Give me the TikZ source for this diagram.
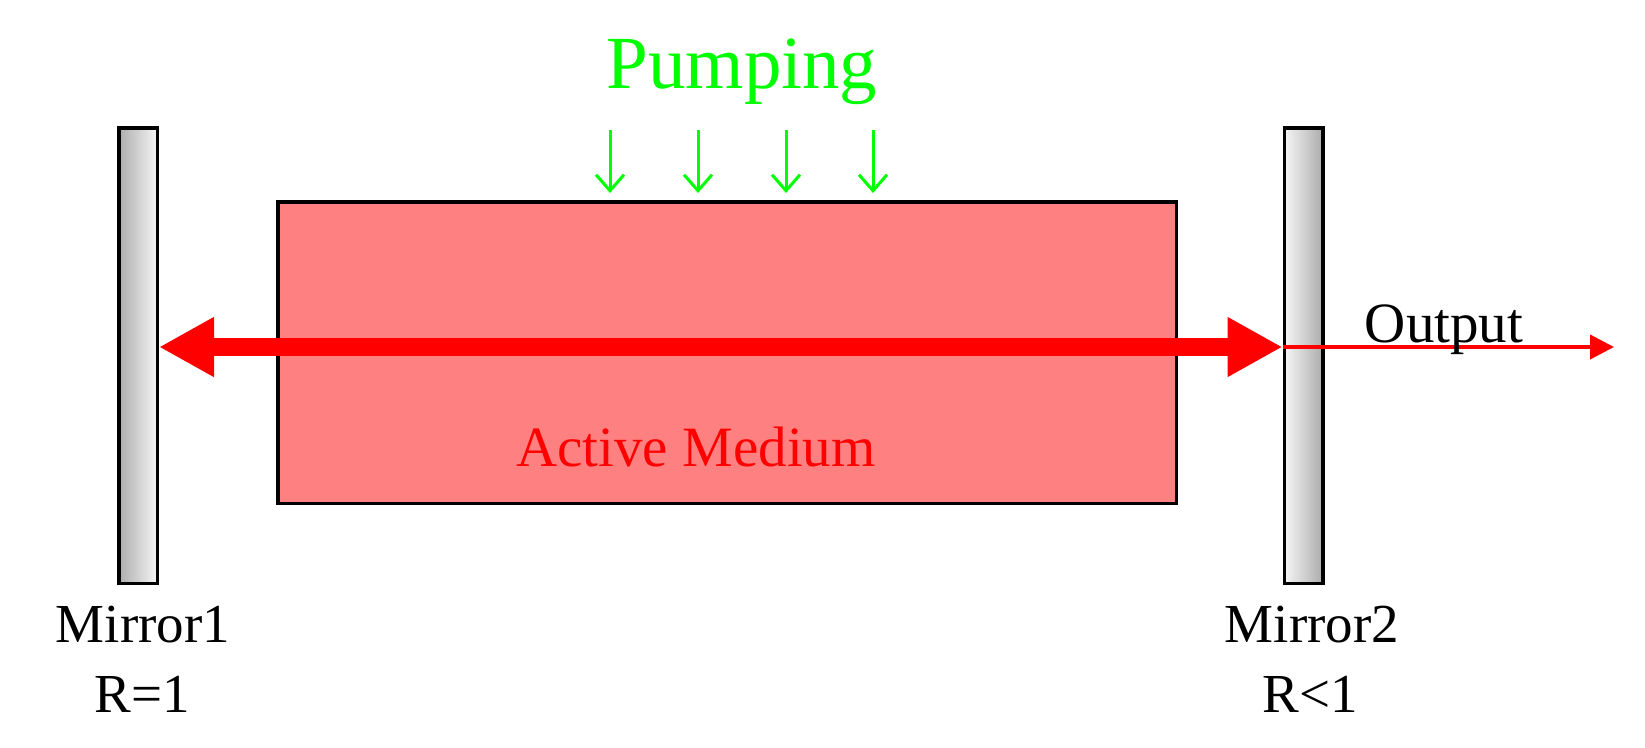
\documentclass[tikz,border=0pt]{standalone}
\usepackage{fontspec}
\setmainfont{Liberation Serif}
\usetikzlibrary{arrows.meta}
\definecolor{pumpgreen}{RGB}{0,255,0}
\definecolor{beamred}{RGB}{255,0,0}
\definecolor{mediumfill}{RGB}{255,128,128}
\definecolor{mirrordark}{RGB}{172,172,172}
\definecolor{mirrorlight}{RGB}{246,246,246}
\tikzset{
  mirror/.style={draw=black, line width=3.5pt, minimum width=38.5pt, minimum height=455.5pt, inner sep=0pt},
  medium/.style={draw=black, line width=3.5pt, fill=mediumfill, minimum width=898.5pt, minimum height=301.5pt, inner sep=0pt},
  beam/.style={draw=beamred, line width=18pt, {Triangle[length=55pt,width=56pt]}-{Triangle[length=55pt,width=56pt]}},
  outbeam/.style={draw=beamred, line width=4pt, -{Triangle[length=24pt,width=24pt]}},
  pumparrow/.style={draw=pumpgreen, line width=3pt, -{Straight Barb[length=16pt,width=28pt,line width=3pt]}},
  label/.style={anchor=base, inner sep=0pt, font=\fontsize{55}{66}\selectfont},
}
\begin{document}
\begin{tikzpicture}[x=1pt,y=-1pt]
\useasboundingbox (0,0) rectangle (1645,747);
% active medium
\node[medium] (med) at (727,352.5) {};
% mirrors
\node[mirror, left color=mirrordark, right color=mirrorlight] (m1) at (138,355.5) {};
\node[mirror, left color=mirrorlight, right color=mirrordark] (m2) at (1303.5,355.5) {};
% beam
\coordinate (beamy) at (0,347);
\draw[beam] (m1.east |- beamy) -- (m2.west |- beamy);
\coordinate (outend) at (1614,347);
\draw[outbeam] (m2.west |- beamy) -- (outend);
% pumping arrows
\foreach \x [count=\i] in {610,698,786,873} {
  \coordinate (pa\i) at (\x,130);
  \coordinate (pb\i) at (\x,193);
  \draw[pumparrow] (pa\i) -- (pb\i);
}
% texts
\node[label, text=pumpgreen, font=\fontsize{75}{90}\selectfont] (pump) at (742,88) {Pumping};
\node[label, text=beamred, font=\fontsize{57}{68}\selectfont] (medtxt) at (696,466) {Active Medium};
\node[label, font=\fontsize{57}{68}\selectfont] (outtxt) at (1444,342) {Output};
\node[label] (m1a) at (143,642) {Mirror1};
\node[label] (m1b) at (142,712) {R=1};
\node[label] (m2a) at (1312,642) {Mirror2};
\node[label] (m2b) at (1310,712) {R<1};
\end{tikzpicture}
\end{document}
